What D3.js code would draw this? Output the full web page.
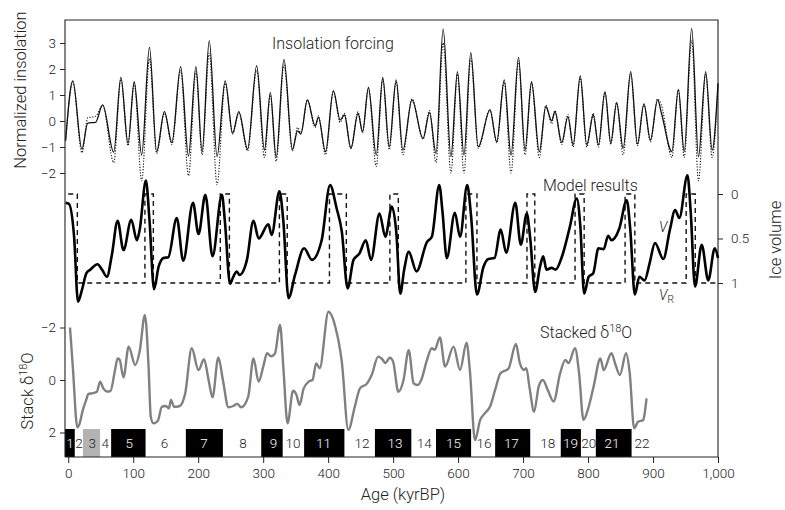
<!DOCTYPE html>
<html><head><meta charset="utf-8">
<script src="https://cdn.jsdelivr.net/npm/d3@7"></script>
<style>
body{margin:0;background:#fff}
svg{display:block}
text{font-family:Roboto,"Liberation Sans",Arial,sans-serif;font-weight:300;fill:#222;-webkit-font-smoothing:antialiased}
</style>
</head><body>
<svg id="c" width="785" height="510"></svg>
<script>
// ---- Insolation forcing (normalized) ----
const insolAge = [-4,7,21,30,42,53,70,81,92,101.5,113,125,136,148,159.5,173,185,196.5,206,217,229,241.5,253,262.5,276,290,302,311,320,332,345,353,358,368,380,385,396,408,418.5,425,435,446,453,462,474,484,494,504.6,515,529,546,556,566,577,589,599,609,619.5,631,649,659.5,671,681.5,693,703,713,725,735,744,749,759.5,769,777,788,798,808,816,826,835,844,854,865.6,876,886,896,907,913,929,939,948,959.5,970,981,991,1000];
const insolSolid = [-0.75,1.54,-1.08,-0.08,-0.05,0.62,-1.2,1.68,-0.86,1.51,-1.31,2.83,-1.18,0.36,-0.83,2.09,-1.35,2.09,-1.18,3.09,-1.37,1.54,-0.47,0.36,-1.08,2.13,-1.12,1.09,-1.4,2.37,-1.09,-0.38,-0.5,0.81,-0.19,0.14,-1.18,1.17,0.04,0.23,-1.05,0.29,-0.41,1.29,-1.31,1.68,-0.99,1.58,-1.12,0.81,-0.67,0.32,-1.24,3.53,-1.37,1.9,-1.31,2.63,-0.99,0.42,-0.79,1.58,-1.31,2.45,-1.12,1.51,-1.18,0.55,0.01,0.36,-0.83,0.17,-0.92,1.73,-0.92,0.23,-0.92,1.13,-0.83,0.71,-1.05,1.9,-0.88,0.65,-0.73,0.81,0.3,-1.18,1.22,-1.18,3.56,-1.37,1.9,-1.12,1.45];
const insolDotted = [-0.75,1.5,-1.22,0.12,0.18,0.6,-1.6,1.6,-0.95,1.45,-2.3,2.4,-1.25,0.3,-0.9,1.95,-2.1,1.9,-1.3,2.6,-2.45,1.45,-0.5,0.3,-1.15,1.95,-1.4,1.0,-1.55,2.15,-1.15,-0.25,-0.45,0.8,-0.25,0.2,-1.3,1.12,-0.05,0.3,-1.05,0.35,-0.45,1.25,-1.75,1.6,-1.1,1.5,-1.3,0.85,-0.7,0.4,-1.6,3.0,-2.0,1.8,-2.0,2.4,-1.05,0.45,-0.85,1.5,-2.0,2.3,-1.3,1.45,-1.4,0.6,-0.1,0.4,-0.9,0.25,-1.0,1.65,-1.0,0.3,-1.0,1.1,-0.9,0.7,-1.3,1.8,-0.95,0.65,-0.8,0.85,0.6,-1.4,1.2,-1.4,3.1,-2.3,1.8,-1.4,1.4];
const insolTicks = [-2,-1,0,1,2,3];

// ---- Model results: ice volume V ----
const modelAge = [-4,1,9,15,21,28,34,45,52,59.5,67,76,85,97,105.6,110,119.5,125,132,139,146.6,154,167,177,192,200.5,211,222,236.5,241,249,254,259.5,263.5,275,285,293,308,313,325,331,339,349,363,375,390,403,413,421,430,439,448,458,466,479,488,498,505,511,517,524,536,552,559.6,571,576,582.6,595,603,614,620,629,639,646.6,656,665.6,674,688,696.5,705.7,711,718.5,726,731,736,744,750,760,772,782.6,788,794,801,808,816,824,831,836,848,859.5,865,872,879,887,895,903,915.8,926,934,940.5,953,958,964.6,974.9,985,995,1000];
const modelV = [0.10,0.11,0.48,1.21,1.08,0.89,0.85,0.79,0.85,0.93,0.69,0.30,0.63,0.29,0.52,0.40,-0.15,0.29,1.07,0.82,0.72,0.71,0.27,0.75,0.10,0.45,0.01,0.70,0.01,0.30,1.01,0.93,0.87,0.91,0.74,0.30,0.50,0.34,0.46,-0.03,0.30,1.17,0.91,0.61,0.74,0.52,-0.10,0.16,0.42,1.06,0.74,0.67,0.52,0.74,0.22,0.48,0.14,0.44,1.12,0.85,0.65,0.87,0.54,0.48,-0.10,0.20,0.72,0.21,0.48,-0.10,0.25,1.13,0.82,0.73,0.72,0.40,0.66,0.10,0.57,0.22,0.50,1.10,0.82,0.70,0.85,0.83,0.85,0.70,0.37,0.05,0.35,1.12,0.93,0.89,0.61,0.62,0.47,0.52,0.39,0.07,0.40,1.13,0.93,0.97,0.77,0.55,0.73,0.40,0.18,0.27,-0.21,0.20,1.04,0.57,0.97,0.61,0.72];
// Reference ice volume V_R: termination intervals (kyr BP) where V_R = 0, otherwise 1
const refPulses = [[0,14],[118,131],[234,248],[325,337],[402,428],[495,508],[612,629],[706,718],[780,794],[857,872],[951,965]];
const iceTicks = [0,0.5,1];

// ---- Stacked d18O ----
const stackAge = [2.7,7,14,17,22.5,27.6,31,38,44,49,54,60,65,72,76,79,85,93,103,110,118,123.6,127,131,138,144,150,155,158,163,171,180,190,200.5,209,216,222,231,238,246.6,254,260,266,277,285,293,300,306,312,318,326,331,337.5,346,351,356,362,370,376,381.5,387,400.5,411,421,431,441,449,460,467,477,483,488,495,500,508,516,524,531.6,537.6,544,552,559.6,564,572,580,593,603,613,618,626,634,641,649,657,665,677.6,689,695,701.5,705,710,717,724,730.5,738,747,757,765,770,780,786,793,801,808.6,819,824,836,842,849,858.5,864,871,877,885,887,890];
const stackD = [-2.0,-0.51,1.80,1.7,1.14,0.76,0.53,0.5,0.45,0.06,0.32,0.44,0.42,-0.38,-0.82,-0.78,-0.10,-1.27,-0.57,-1.1,-2.48,-0.51,1.40,1.65,1.55,1.02,0.99,1.08,0.76,1.02,1.0,0.51,-1.21,-0.38,-0.79,0.0,0.66,-0.86,0.0,1.04,0.99,0.91,1.04,0.63,-0.82,0.06,-0.5,-1.02,-0.9,-1.0,-2.10,-0.5,1.65,0.41,0.55,0.95,0.35,0.06,0.0,-0.63,-0.45,-2.60,-2.03,-0.70,1.90,1.02,0.32,0.13,-0.19,-0.89,-0.8,-0.65,-0.85,-0.7,0.45,0.0,-1.14,0.13,0.19,-0.05,-0.76,-1.21,-1.15,-1.62,-0.51,-1.27,-0.38,-1.42,-0.4,2.29,1.52,1.27,1.02,0.38,-0.25,-0.44,-1.37,-0.65,-0.38,-0.45,0.3,1.21,0.25,0.0,0.38,0.82,-0.25,-0.76,-0.65,-1.21,-0.3,1.52,1.02,0.25,-0.82,-0.38,-1.02,-0.6,-0.19,-1.02,-0.3,1.84,1.59,1.52,1.3,0.70];
const stackTicks = [-2,0,2];

// ---- Marine isotope stages ----
const misWarm = [[-5,10],[66,119],[181,238],[297,330],[363,425],[472,528],[566,620],[657,711],[758,789],[812,867]];
const misGrey = [[22.6,49]];
const misLabels = ["1","2","3","4","5","6","7","8","9","10","11","12","13","14","15","16","17","18","19","20","21","22"];
const misLabelAge = [2.7,16.5,37,57,94,148,209,269,316,346,393,452,503,548,593,640,682,738,773,801,837,883];

const ageTicks = [0,100,200,300,400,500,600,700,800,900,1000];

// ---------------------------------------------------------------
const svg = d3.select("#c");
const L = 65, R = 718, T = 20, B = 457;
const x = d3.scaleLinear().domain([-5,1000]).range([L,R]);
const yIns = d3.scaleLinear().domain([-2,3]).range([173,43]);
const yIce = d3.scaleLinear().domain([0,1]).range([194,283]);
const yD = d3.scaleLinear().domain([-2,2]).range([327.5,432.5]);
const INK = "#222";

// MIS boxes
const misY0 = 429, misY1 = B;
svg.append("g").selectAll("rect").data(misWarm).join("rect")
  .attr("x", d => x(d[0])).attr("width", d => x(d[1]) - x(d[0]))
  .attr("y", misY0).attr("height", misY1 - misY0).attr("fill", "#000");
svg.append("g").selectAll("rect").data(misGrey).join("rect")
  .attr("x", d => x(d[0])).attr("width", d => x(d[1]) - x(d[0]))
  .attr("y", misY0).attr("height", misY1 - misY0).attr("fill", "#b3b3b3");
svg.append("g").selectAll("text").data(misLabels).join("text")
  .attr("x", (d,i) => x(misLabelAge[i])).attr("y", 448)
  .attr("text-anchor", "middle").attr("font-size", 13.5)
  .style("fill", (d,i) => misWarm.some(b => misLabelAge[i] > b[0] && misLabelAge[i] < b[1]) ? "#fff" : INK)
  .text(d => d);

// frame
svg.append("path")
  .attr("d", `M${L},${B}V${T}H${R}V${B}H${L}`)
  .attr("fill", "none").attr("stroke", INK).attr("stroke-width", 1.1);

// axes
const axLeftIns = svg.append("g").attr("transform", `translate(${L},0)`)
  .call(d3.axisLeft(yIns).tickValues(insolTicks).tickSize(5).tickPadding(4).tickFormat(d3.format("d")));
const axLeftD = svg.append("g").attr("transform", `translate(${L},0)`)
  .call(d3.axisLeft(yD).tickValues(stackTicks).tickSize(5).tickPadding(4).tickFormat(d3.format("d")));
const axRight = svg.append("g").attr("transform", `translate(${R},0)`)
  .call(d3.axisRight(yIce).tickValues(iceTicks).tickSize(5).tickPadding(8).tickFormat(d => d));
const axBottom = svg.append("g").attr("transform", `translate(0,${B})`)
  .call(d3.axisBottom(x).tickValues(ageTicks).tickSize(6).tickPadding(5).tickFormat(d3.format(",")));
[axLeftIns, axLeftD, axRight, axBottom].forEach(g => {
  g.select(".domain").remove();
  g.selectAll("line").attr("stroke", INK);
  g.selectAll("text").attr("font-size", 13.5).style("font-family", "Roboto,'Liberation Sans',Arial,sans-serif").style("fill", INK);
});

// insolation lines
const idx = insolAge.map((d,i) => i);
const lineIns = arr => d3.line().curve(d3.curveMonotoneX).x(i => x(insolAge[i])).y(i => yIns(arr[i]));
svg.append("path").attr("d", lineIns(insolDotted)(idx))
  .attr("fill", "none").attr("stroke", "#111").attr("stroke-width", 1.1).attr("stroke-dasharray", "1.2,1.6");
svg.append("path").attr("d", lineIns(insolSolid)(idx))
  .attr("fill", "none").attr("stroke", "#111").attr("stroke-width", 1.3);

// V_R dashed step line
const refPts = [];
refPulses.forEach((p, k) => {
  if (k === 0) refPts.push([p[0], 0]); else { refPts.push([p[0], 1]); refPts.push([p[0], 0]); }
  refPts.push([p[1], 0]); refPts.push([p[1], 1]);
});
refPts.push([1000, 1]);
svg.append("path").attr("d", d3.line().x(d => x(d[0])).y(d => yIce(d[1]))(refPts))
  .attr("fill", "none").attr("stroke", "#111").attr("stroke-width", 1.4).attr("stroke-dasharray", "5,4");

// model V
svg.append("path")
  .attr("d", d3.line().curve(d3.curveMonotoneX).x((d,i) => x(modelAge[i])).y(d => yIce(d))(modelV))
  .attr("fill", "none").attr("stroke", "#000").attr("stroke-width", 2.6).attr("stroke-linejoin", "round");

// stacked d18O
svg.append("path")
  .attr("d", d3.line().curve(d3.curveMonotoneX).x((d,i) => x(stackAge[i])).y(d => yD(d))(stackD))
  .attr("fill", "none").attr("stroke", "#808080").attr("stroke-width", 2.4).attr("stroke-linejoin", "round");

// annotations
const txt = (sel) => sel.style("fill", INK);
txt(svg.append("text").attr("x", 272).attr("y", 49).attr("font-size", 16).text("Insolation forcing"));
txt(svg.append("text").attr("x", 543).attr("y", 191).attr("font-size", 16).text("Model results"));
txt(svg.append("text").attr("x", 659).attr("y", 232).attr("font-size", 14).style("font-style", "italic").text("V"));
const vr = txt(svg.append("text").attr("x", 659).attr("y", 300).attr("font-size", 14));
vr.append("tspan").style("font-style", "italic").text("V");
vr.append("tspan").attr("font-size", 10).attr("dy", 3).text("R");
const st = txt(svg.append("text").attr("x", 540).attr("y", 338).attr("font-size", 16));
st.append("tspan").text("Stacked δ");
st.append("tspan").attr("font-size", 11).attr("dy", -6).text("18");
st.append("tspan").attr("dy", 6).text("O");

// axis titles
txt(svg.append("text").attr("transform", "translate(26,90) rotate(-90)").attr("text-anchor", "middle")
  .attr("font-size", 16.5).text("Normalized insolation"));
const sd = txt(svg.append("text").attr("transform", "translate(33,391) rotate(-90)").attr("text-anchor", "middle")
  .attr("font-size", 16.5));
sd.append("tspan").text("Stack δ");
sd.append("tspan").attr("font-size", 11).attr("dy", -6).text("18");
sd.append("tspan").attr("dy", 6).text("O");
txt(svg.append("text").attr("transform", "translate(781,240) rotate(-90)").attr("text-anchor", "middle")
  .attr("font-size", 16.5).text("Ice volume"));
txt(svg.append("text").attr("x", 403).attr("y", 500).attr("text-anchor", "middle")
  .attr("font-size", 16.5).text("Age (kyrBP)"));
</script>
</body></html>
